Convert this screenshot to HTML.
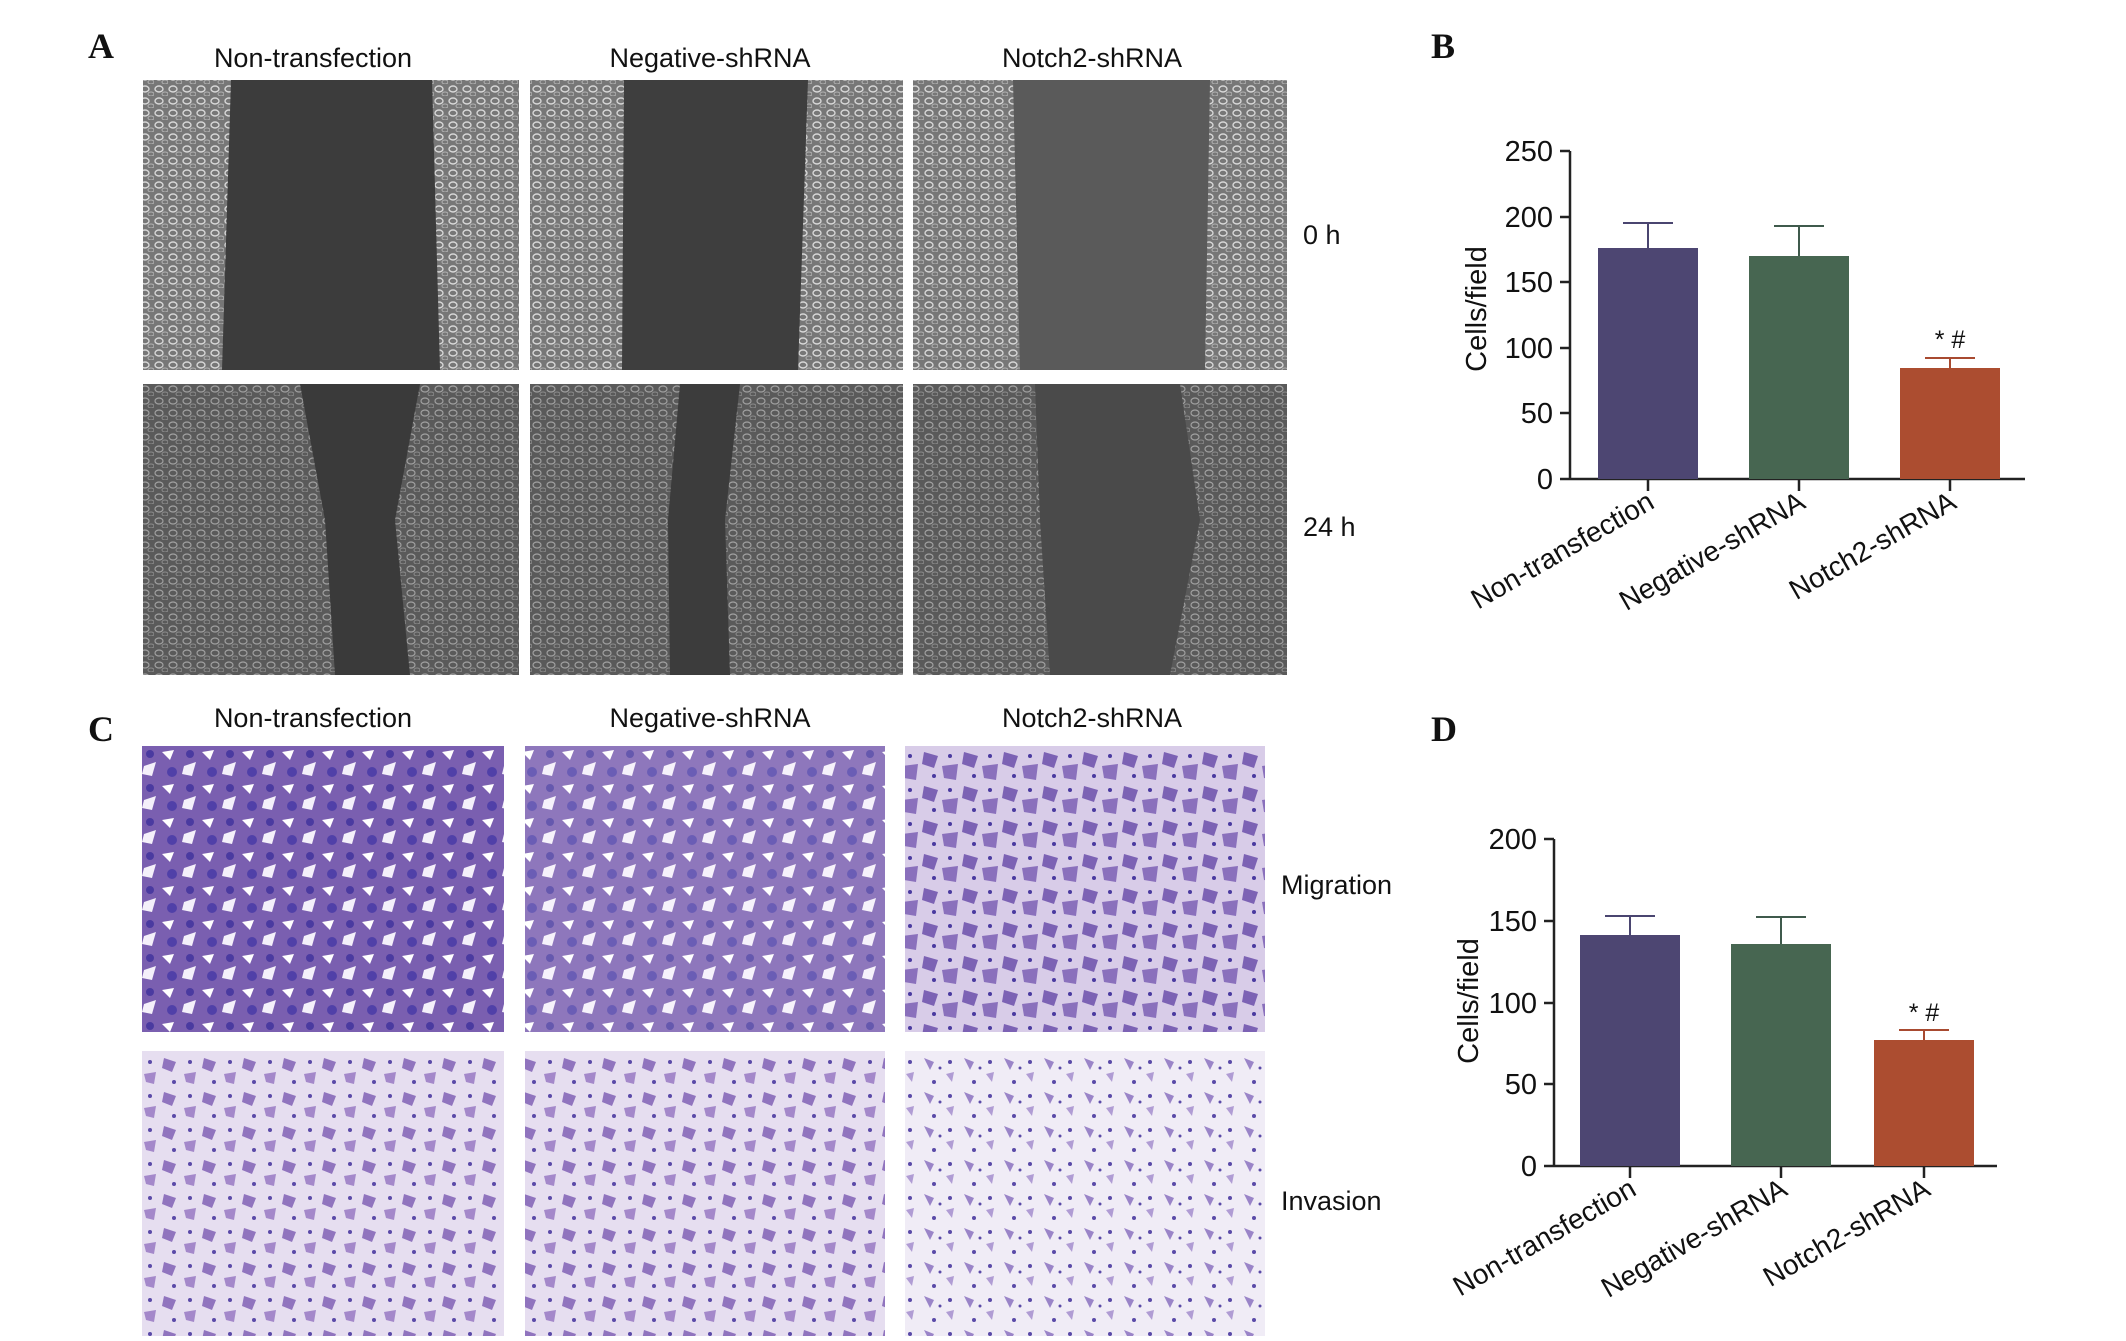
<!DOCTYPE html>
<html><head><meta charset="utf-8"><style>
html,body{margin:0;padding:0;background:#fff}
svg{display:block}
text{font-family:"Liberation Sans",sans-serif;fill:#111}
.L{font-family:"Liberation Serif",serif;font-weight:bold;font-size:36px}
</style></head><body>
<svg width="2126" height="1341" viewBox="0 0 2126 1341" xmlns="http://www.w3.org/2000/svg">
<defs>
<pattern id="cells" width="14" height="12" patternUnits="userSpaceOnUse">
<rect width="14" height="12" fill="#777"/>
<ellipse cx="5" cy="5" rx="4" ry="3" fill="none" stroke="#d8d8d8" stroke-width="1.4"/>
<ellipse cx="11" cy="10" rx="3" ry="2" fill="none" stroke="#b0b0b0" stroke-width="1"/>
</pattern>
<pattern id="cells2" width="14" height="12" patternUnits="userSpaceOnUse">
<rect width="14" height="12" fill="#5a5a5a"/>
<ellipse cx="5" cy="5" rx="4" ry="3" fill="none" stroke="#a0a0a0" stroke-width="1.2"/>
<ellipse cx="11" cy="10" rx="3" ry="2" fill="none" stroke="#8a8a8a" stroke-width="1"/>
</pattern>
<pattern id="mig" width="40" height="34" patternUnits="userSpaceOnUse">
<rect width="40" height="34" fill="#7a5fb0"/>
<path d="M2 4 L14 2 L10 12 Z" fill="#fff"/>
<path d="M24 18 L36 14 L32 28 L22 26 Z" fill="#f4f0fa"/>
<circle cx="30" cy="6" r="4" fill="#4a3aa0"/>
<circle cx="12" cy="24" r="5" fill="#5040a8"/>
</pattern>
<pattern id="mig3" width="40" height="34" patternUnits="userSpaceOnUse">
<rect width="40" height="34" fill="#d8cce8"/>
<path d="M4 4 L18 8 L14 20 L2 16 Z" fill="#7c62b4"/>
<path d="M22 18 L38 16 L36 32 L24 30 Z" fill="#8a70bc"/>
<circle cx="30" cy="8" r="2" fill="#4a3aa0"/>
<circle cx="14" cy="28" r="2" fill="#4a3aa0"/>
</pattern>
<pattern id="inv" width="40" height="34" patternUnits="userSpaceOnUse">
<rect width="40" height="34" fill="#e6def0"/>
<path d="M4 4 L16 8 L12 18 L2 14 Z" fill="#9074be"/>
<path d="M24 20 L36 18 L34 30 L26 28 Z" fill="#a488ca"/>
<circle cx="30" cy="8" r="2" fill="#5a4aa8"/>
<circle cx="14" cy="28" r="2" fill="#5a4aa8"/>
</pattern>
<pattern id="inv2" width="40" height="34" patternUnits="userSpaceOnUse">
<rect width="40" height="34" fill="#f0ecf6"/>
<path d="M4 4 L14 8 L10 16 Z" fill="#9a84c8"/>
<path d="M26 20 L34 18 L32 28 Z" fill="#b09cd4"/>
<circle cx="30" cy="8" r="2" fill="#5a4aa8"/>
<circle cx="14" cy="28" r="2" fill="#5a4aa8"/>
<circle cx="20" cy="14" r="1.5" fill="#5a4aa8"/>
</pattern>
</defs>

<!-- Panel A -->
<text class="L" x="88" y="58">A</text>
<text x="313" y="67" font-size="27" text-anchor="middle">Non-transfection</text>
<text x="710" y="67" font-size="27" text-anchor="middle">Negative-shRNA</text>
<text x="1092" y="67" font-size="27" text-anchor="middle">Notch2-shRNA</text>
<text x="1303" y="244" font-size="27">0 h</text>
<text x="1303" y="536" font-size="27">24 h</text>

<rect x="143" y="80" width="376" height="290" fill="url(#cells)"/>
<polygon points="231,80 432,80 440,370 222,370" fill="#3c3c3c"/>
<rect x="530" y="80" width="373" height="290" fill="url(#cells)"/>
<polygon points="624,80 808,80 798,370 622,370" fill="#3e3e3e"/>
<rect x="913" y="80" width="374" height="290" fill="url(#cells)"/>
<polygon points="1013,80 1210,80 1205,370 1020,370" fill="#5a5a5a"/>

<rect x="143" y="384" width="376" height="291" fill="url(#cells2)"/>
<polygon points="300,384 420,384 395,520 410,675 335,675 325,520" fill="#3a3a3a"/>
<rect x="530" y="384" width="373" height="291" fill="url(#cells2)"/>
<polygon points="680,384 740,384 725,520 730,675 670,675 668,520" fill="#3c3c3c"/>
<rect x="913" y="384" width="374" height="291" fill="url(#cells2)"/>
<polygon points="1035,384 1180,384 1200,520 1170,675 1050,675 1040,520" fill="#4a4a4a"/>

<!-- Panel C -->
<text class="L" x="88" y="741">C</text>
<text x="313" y="727" font-size="27" text-anchor="middle">Non-transfection</text>
<text x="710" y="727" font-size="27" text-anchor="middle">Negative-shRNA</text>
<text x="1092" y="727" font-size="27" text-anchor="middle">Notch2-shRNA</text>
<text x="1281" y="894" font-size="27">Migration</text>
<text x="1281" y="1210" font-size="27">Invasion</text>

<rect x="142" y="746" width="362" height="286" fill="url(#mig)"/>
<rect x="525" y="746" width="360" height="286" fill="url(#mig)" opacity="0.85"/>
<rect x="905" y="746" width="360" height="286" fill="url(#mig3)"/>
<rect x="142" y="1051" width="362" height="285" fill="url(#inv)"/>
<rect x="525" y="1051" width="360" height="285" fill="url(#inv)"/>
<rect x="905" y="1051" width="360" height="285" fill="url(#inv2)"/>

<!-- Chart B -->
<text class="L" x="1431" y="58">B</text>
<g stroke="#222" stroke-width="2.5" fill="none">
<line x1="1570" y1="151" x2="1570" y2="479"/>
<line x1="1560" y1="479" x2="2025" y2="479"/>
<line x1="1560" y1="151" x2="1570" y2="151"/>
<line x1="1560" y1="217" x2="1570" y2="217"/>
<line x1="1560" y1="282" x2="1570" y2="282"/>
<line x1="1560" y1="348" x2="1570" y2="348"/>
<line x1="1560" y1="413" x2="1570" y2="413"/>
<line x1="1648" y1="479" x2="1648" y2="491"/>
<line x1="1799" y1="479" x2="1799" y2="491"/>
<line x1="1950" y1="479" x2="1950" y2="491"/>
</g>
<g font-size="29" text-anchor="end">
<text x="1553" y="161">250</text><text x="1553" y="227">200</text><text x="1553" y="292">150</text>
<text x="1553" y="358">100</text><text x="1553" y="423">50</text><text x="1553" y="489">0</text>
</g>
<text transform="translate(1486,309) rotate(-90)" font-size="29" text-anchor="middle">Cells/field</text>
<g stroke-width="2">
<line x1="1648" y1="223" x2="1648" y2="248" stroke="#4a4570"/><line x1="1623" y1="223" x2="1673" y2="223" stroke="#4a4570"/>
<line x1="1799" y1="226" x2="1799" y2="256" stroke="#3f5a4c"/><line x1="1774" y1="226" x2="1824" y2="226" stroke="#3f5a4c"/>
<line x1="1950" y1="358" x2="1950" y2="368" stroke="#a84a30"/><line x1="1925" y1="358" x2="1975" y2="358" stroke="#a84a30"/>
</g>
<rect x="1598" y="248" width="100" height="231" fill="#4d4672"/>
<rect x="1749" y="256" width="100" height="223" fill="#476651"/>
<rect x="1900" y="368" width="100" height="111" fill="#ac4d30"/>
<text x="1950" y="348" font-size="25" text-anchor="middle">* #</text>
<g font-size="28" text-anchor="end">
<text transform="translate(1656,507) rotate(-30)">Non-transfection</text>
<text transform="translate(1807,507) rotate(-30)">Negative-shRNA</text>
<text transform="translate(1958,507) rotate(-30)">Notch2-shRNA</text>
</g>

<!-- Chart D -->
<text class="L" x="1431" y="741">D</text>
<g stroke="#222" stroke-width="2.5" fill="none">
<line x1="1554" y1="839" x2="1554" y2="1166"/>
<line x1="1544" y1="1166" x2="1997" y2="1166"/>
<line x1="1544" y1="839" x2="1554" y2="839"/>
<line x1="1544" y1="921" x2="1554" y2="921"/>
<line x1="1544" y1="1003" x2="1554" y2="1003"/>
<line x1="1544" y1="1084" x2="1554" y2="1084"/>
<line x1="1630" y1="1166" x2="1630" y2="1178"/>
<line x1="1781" y1="1166" x2="1781" y2="1178"/>
<line x1="1924" y1="1166" x2="1924" y2="1178"/>
</g>
<g font-size="29" text-anchor="end">
<text x="1537" y="849">200</text><text x="1537" y="931">150</text><text x="1537" y="1013">100</text>
<text x="1537" y="1094">50</text><text x="1537" y="1176">0</text>
</g>
<text transform="translate(1478,1001) rotate(-90)" font-size="29" text-anchor="middle">Cells/field</text>
<g stroke-width="2">
<line x1="1630" y1="916" x2="1630" y2="935" stroke="#4a4570"/><line x1="1605" y1="916" x2="1655" y2="916" stroke="#4a4570"/>
<line x1="1781" y1="917" x2="1781" y2="944" stroke="#3f5a4c"/><line x1="1756" y1="917" x2="1806" y2="917" stroke="#3f5a4c"/>
<line x1="1924" y1="1030" x2="1924" y2="1040" stroke="#a84a30"/><line x1="1899" y1="1030" x2="1949" y2="1030" stroke="#a84a30"/>
</g>
<rect x="1580" y="935" width="100" height="231" fill="#4d4672"/>
<rect x="1731" y="944" width="100" height="222" fill="#476651"/>
<rect x="1874" y="1040" width="100" height="126" fill="#ac4d30"/>
<text x="1924" y="1021" font-size="25" text-anchor="middle">* #</text>
<g font-size="28" text-anchor="end">
<text transform="translate(1638,1194) rotate(-30)">Non-transfection</text>
<text transform="translate(1789,1194) rotate(-30)">Negative-shRNA</text>
<text transform="translate(1932,1194) rotate(-30)">Notch2-shRNA</text>
</g>
</svg>
</body></html>
